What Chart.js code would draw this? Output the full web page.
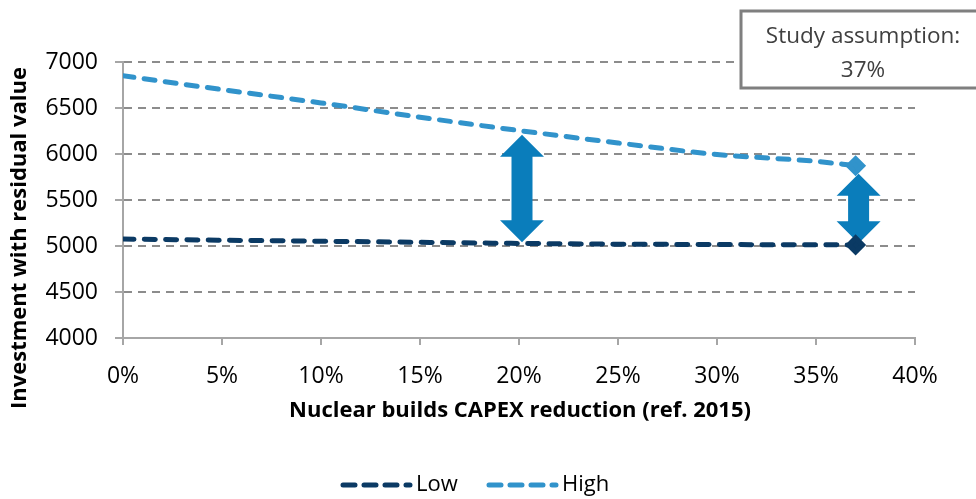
<!DOCTYPE html>
<html>
<head>
<meta charset="utf-8">
<script src="https://cdn.jsdelivr.net/npm/chart.js@4.4.1/dist/chart.umd.min.js"></script>
<style>
  html, body { margin: 0; padding: 0; background: #fff; }
  #wrap { width: 976px; height: 499px; position: relative; }
</style>
</head>
<body>
<div id="wrap"><canvas id="capexChart" width="976" height="499"></canvas></div>
<script>
// CAPEX reduction (fraction) vs investment with residual value
const capexReduction = [0, 0.05, 0.10, 0.15, 0.20, 0.25, 0.30, 0.35, 0.37];
const lowValues  = [5075, 5063, 5052, 5040, 5028, 5020, 5016, 5013, 5012];
const highValues = [6850, 6700, 6555, 6400, 6255, 6120, 5995, 5920, 5873];
const seriesNames = ["Low", "High"];
const yTicks = [4000, 4500, 5000, 5500, 6000, 6500, 7000];

// double arrows showing the gap between scenarios
const arrowX      = [0.20, 0.37];
const arrowTop    = [6210, 5785];
const arrowBottom = [5040, 5030];

const studyLabel = ["Study assumption:", "37%"];
const xTitle = "Nuclear builds CAPEX reduction (ref. 2015)";
const yTitle = "Investment with residual value";

const LOW_COLOR = "#0b3a64";
const HIGH_COLOR = "#3193cb";
const ARROW_COLOR = "#0a7dbb";
const FONT = "'Open Sans', sans-serif";
const LINE_DASH = [11, 10.3];

const toPoints = vals => vals.map((v, i) => ({ x: capexReduction[i], y: v }));
const lastOnly = n => capexReduction.map((_, i) => i === capexReduction.length - 1 ? n : 0);

function drawArrow(ctx, x, yTop, yBot) {
  const headW = 22, headH = 22, shaftW = 10.5;
  ctx.save();
  ctx.fillStyle = ARROW_COLOR;
  ctx.beginPath();
  ctx.moveTo(x, yTop);
  ctx.lineTo(x + headW, yTop + headH);
  ctx.lineTo(x + shaftW, yTop + headH);
  ctx.lineTo(x + shaftW, yBot - headH);
  ctx.lineTo(x + headW, yBot - headH);
  ctx.lineTo(x, yBot);
  ctx.lineTo(x - headW, yBot - headH);
  ctx.lineTo(x - shaftW, yBot - headH);
  ctx.lineTo(x - shaftW, yTop + headH);
  ctx.lineTo(x - headW, yTop + headH);
  ctx.closePath();
  ctx.fill();
  ctx.restore();
}

const extras = {
  id: "extras",
  beforeDatasetsDraw(chart) {
    const { ctx, scales: { x, y } } = chart;
    arrowX.forEach((ax, i) => {
      drawArrow(ctx, x.getPixelForValue(ax) + 3, y.getPixelForValue(arrowTop[i]), y.getPixelForValue(arrowBottom[i]));
    });
  },
  afterDraw(chart) {
    const { ctx } = chart;
    ctx.save();
    // axis titles
    ctx.fillStyle = "#000";
    ctx.font = "bold 22px " + FONT;
    ctx.textAlign = "center";
    ctx.textBaseline = "middle";
    ctx.fillText(xTitle, 520, 411);
    ctx.save();
    ctx.translate(20, 238);
    ctx.rotate(-Math.PI / 2);
    ctx.fillText(yTitle, 0, 0);
    ctx.restore();

    // study assumption box
    ctx.fillStyle = "#fff";
    ctx.fillRect(740, 11, 240, 77);
    ctx.strokeStyle = "#7f7f7f";
    ctx.lineWidth = 3;
    ctx.strokeRect(741, 11, 240, 77);
    ctx.fillStyle = "#404040";
    ctx.font = "22.5px " + FONT;
    ctx.fillText(studyLabel[0], 863, 37);
    ctx.fillText(studyLabel[1], 863, 71);

    // legend
    const items = chart.data.datasets;
    const starts = [340, 486];
    items.forEach((ds, i) => {
      const sx = starts[i];
      ctx.strokeStyle = ds.borderColor;
      ctx.lineWidth = 5;
      ctx.lineCap = "round";
      ctx.setLineDash([12, 9]);
      ctx.beginPath();
      ctx.moveTo(sx + 3, 485);
      ctx.lineTo(sx + 70, 485);
      ctx.stroke();
      ctx.setLineDash([]);
      ctx.fillStyle = "#000";
      ctx.font = "22px " + FONT;
      ctx.textAlign = "left";
      ctx.fillText(ds.label, sx + 76, 485);
    });
    ctx.restore();
  }
};

new Chart(document.getElementById("capexChart"), {
  type: "line",
  data: {
    datasets: [
      {
        label: seriesNames[0],
        data: toPoints(lowValues),
        borderColor: LOW_COLOR,
        backgroundColor: LOW_COLOR,
        borderWidth: 5,
        borderDash: LINE_DASH,
        borderCapStyle: "round",
        cubicInterpolationMode: "monotone",
        pointStyle: "rectRot",
        pointRadius: lastOnly(7),
        pointHoverRadius: 0
      },
      {
        label: seriesNames[1],
        data: toPoints(highValues),
        borderColor: HIGH_COLOR,
        backgroundColor: HIGH_COLOR,
        borderWidth: 5,
        borderDash: LINE_DASH,
        borderCapStyle: "round",
        cubicInterpolationMode: "monotone",
        pointStyle: "rectRot",
        pointRadius: lastOnly(7),
        pointHoverRadius: 0
      }
    ]
  },
  options: {
    responsive: false,
    animation: false,
    layout: { padding: { top: 62, right: 61, left: 0, bottom: 0 } },
    plugins: { legend: { display: false }, tooltip: { enabled: false } },
    scales: {
      x: {
        type: "linear",
        min: 0,
        max: 0.4,
        afterFit: s => { s.height = 161; },
        ticks: {
          stepSize: 0.05,
          padding: 18,
          color: "#000",
          font: { family: FONT, size: 23 },
          callback: v => Math.round(v * 100) + "%"
        },
        grid: { drawOnChartArea: false, drawTicks: true, tickLength: 7, color: "#a6a6a6", lineWidth: 2 },
        border: { display: true, color: "#a6a6a6", width: 2 }
      },
      y: {
        min: 4000,
        max: 7000,
        afterFit: s => { s.width = 123; },
        afterBuildTicks: s => { s.ticks = yTicks.map(v => ({ value: v })); },
        ticks: {
          padding: 17,
          color: "#000",
          font: { family: FONT, size: 23 },
          callback: v => String(v)
        },
        grid: { color: "#8c8c8c", lineWidth: 2, tickLength: 8, tickColor: "#a6a6a6", tickWidth: 2 },
        border: { display: true, color: "#a6a6a6", width: 2, dash: [8, 6] }
      }
    }
  },
  plugins: [extras]
});
</script>
</body>
</html>
